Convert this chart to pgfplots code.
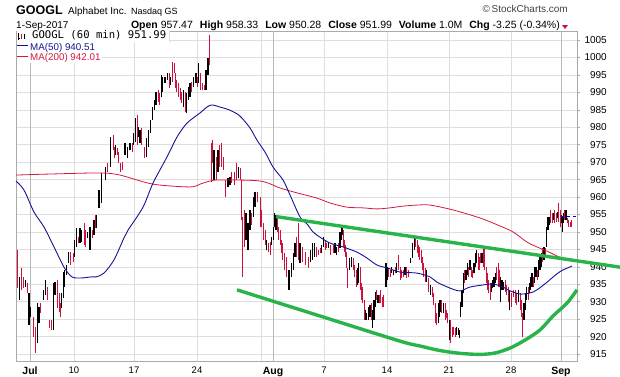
\documentclass[border=0pt]{standalone}
\usepackage{pgfplots}
\pgfplotsset{compat=1.18}
\usepackage{pgfplotstable}
\usepackage{fontspec}
\setmainfont{Liberation Sans}
\newfontfamily\monofont{DejaVu Sans Mono}

\definecolor{barred}{RGB}{206,16,60}
\definecolor{manavy}{RGB}{20,20,150}
\definecolor{macrim}{RGB}{214,24,64}
\definecolor{trendgreen}{RGB}{40,180,75}
\definecolor{gridgray}{RGB}{222,222,222}
\definecolor{monthgrid}{RGB}{185,185,185}
\definecolor{framegray}{RGB}{170,170,170}

% up (black) hourly bars: x-position, high, low
\pgfplotstableread{
x hi lo
19.3 937.2 930.5
25.7 936.2 934.3
29.0 932.4 923.3
30.7 928.6 925.7
37.3 929.6 918.1
39.0 928.6 923.8
43.3 933.4 930.5
45.7 936.2 931.9
53.3 935.3 921.9
55.0 935.7 931.9
61.7 932.4 928.1
63.3 938.6 931.0
64.7 939.1 934.3
66.3 940.5 937.6
68.3 944.3 941.0
74.7 947.7 942.9
76.7 951.0 945.8
80.0 951.0 946.7
81.7 950.5 947.2
87.3 950.1 948.2
90.0 951.5 944.8
94.0 953.4 949.1
96.7 954.8 951.0
99.0 962.0 956.8
101.5 966.8 958.2
105.3 968.7 964.9
110.7 977.3 968.7
115.7 974.9 972.0
125.0 975.4 972.0
127.3 974.4 971.1
130.0 975.4 973.5
133.7 978.3 974.9
135.3 982.6 975.9
138.7 980.2 977.3
140.0 979.2 975.4
146.7 976.8 971.6
148.7 979.2 974.4
150.7 982.1 978.3
152.3 985.9 982.1
154.7 987.8 984.9
156.0 990.2 986.4
161.3 995.0 988.7
162.7 994.5 990.2
165.0 994.5 992.6
167.3 995.5 993.5
170.7 994.5 992.1
183.3 990.7 985.9
186.7 989.7 984.0
188.3 991.6 987.8
190.0 992.6 988.7
193.7 994.5 991.6
196.0 995.5 992.6
198.7 998.3 992.6
206.0 996.4 990.7
208.0 999.8 995.0
214.0 973.5 964.9
218.0 973.5 967.3
228.0 965.4 963.0
230.0 965.8 963.4
238.3 968.7 965.4
246.0 955.3 947.7
248.0 952.5 944.8
250.0 956.3 950.5
253.3 960.1 954.4
255.0 961.5 957.2
266.7 947.7 944.8
271.3 948.6 946.2
273.3 951.5 947.7
274.7 955.3 951.5
276.0 954.8 950.5
289.0 939.1 933.4
291.3 941.0 937.2
293.3 943.9 939.1
295.0 946.7 942.9
300.0 946.7 941.0
310.7 944.8 941.5
312.7 946.7 942.0
314.7 946.7 942.9
321.7 946.2 943.9
323.3 948.6 945.8
328.3 947.2 945.3
335.0 946.7 943.9
336.7 945.8 943.4
340.0 950.1 945.3
341.3 952.0 947.7
342.3 951.5 949.1
349.3 942.4 939.1
351.7 942.9 940.0
357.3 939.6 934.8
358.7 941.0 935.3
365.3 927.6 924.8
366.7 926.7 924.8
368.3 928.6 924.8
370.0 929.1 925.7
372.7 927.6 922.4
374.0 930.5 924.8
375.3 932.9 928.6
378.0 931.9 929.6
386.0 941.0 934.3
387.3 940.0 936.2
391.7 940.0 938.1
393.3 939.1 937.6
396.7 941.0 938.1
405.0 940.0 937.6
410.7 942.4 941.0
412.7 946.7 942.4
414.3 948.6 944.8
426.7 939.1 935.7
430.7 934.8 931.9
438.3 929.6 923.8
439.3 930.5 925.7
440.7 930.5 927.1
443.3 929.6 926.7
449.3 924.8 919.0
456.7 922.8 920.5
458.3 922.4 920.5
459.3 921.9 919.5
460.7 930.0 925.7
462.0 933.4 928.6
463.3 938.1 932.4
466.0 939.1 936.2
467.3 941.0 937.6
470.0 941.9 939.1
474.0 941.0 938.1
475.3 943.9 940.0
476.7 944.8 941.0
482.0 943.9 941.0
491.3 935.3 932.9
492.7 936.2 933.8
494.0 937.2 934.3
495.3 938.1 935.3
500.7 937.2 930.0
502.0 936.2 933.4
503.3 935.7 933.4
509.3 933.4 927.6
518.3 933.4 930.0
524.0 929.6 924.8
525.3 932.4 927.6
526.7 934.3 930.5
529.3 935.3 932.4
530.7 937.2 933.4
532.0 938.1 934.3
534.7 940.0 935.3
536.0 940.0 937.2
538.7 941.9 937.2
540.0 942.9 939.1
541.3 943.9 940.0
544.0 945.8 941.9
546.7 951.5 945.8
548.0 954.4 950.5
549.3 954.4 952.0
553.3 955.3 953.4
557.3 955.8 953.9
561.3 954.8 952.5
562.3 954.4 950.1
563.3 955.3 952.5
566.0 956.3 953.4
}\upbars

% down (red) hourly bars: x-position, high, low
\pgfplotstableread{
x hi lo
17.3 944.8 933.8
21.3 939.6 933.4
23.3 937.2 933.8
27.3 935.3 932.4
33.0 925.7 920.0
35.3 922.8 915.2
40.7 929.6 926.7
47.3 934.3 930.5
49.0 924.8 922.4
51.3 924.8 921.9
57.3 936.2 928.1
59.0 932.4 927.1
60.0 929.6 925.7
70.7 944.3 940.5
73.0 943.9 941.5
78.3 948.6 946.7
84.0 952.5 946.2
85.7 950.5 945.8
92.0 950.5 948.2
95.3 954.8 951.0
107.3 969.7 967.3
113.0 977.8 973.5
114.7 974.4 971.1
117.3 974.0 972.0
118.7 973.0 969.7
120.7 969.7 967.3
122.7 970.1 967.7
132.0 975.4 973.0
137.3 983.5 974.9
141.7 979.7 974.9
144.0 974.4 971.1
158.0 990.7 987.3
159.3 989.7 986.4
169.3 995.5 991.2
172.3 998.8 993.0
174.0 998.3 995.5
175.3 995.5 991.2
176.7 993.5 990.2
178.3 992.6 988.7
180.0 991.2 987.8
181.7 990.2 986.9
185.0 990.2 984.5
191.7 993.0 990.2
197.3 994.5 991.6
200.7 995.5 990.7
202.0 992.6 990.7
204.0 992.1 990.7
209.5 1006.4 997.8
211.0 975.5 964.3
212.5 976.3 969.7
216.0 971.6 964.9
219.3 974.9 968.7
221.0 975.4 968.7
223.3 971.6 967.7
225.7 964.9 960.1
231.7 967.3 964.0
234.0 967.3 963.4
236.0 969.7 964.9
240.0 968.2 964.9
241.3 964.9 953.4
242.7 954.4 937.2
244.0 956.3 945.8
251.7 955.3 952.0
257.3 961.5 958.7
260.0 960.1 951.5
261.7 956.3 951.5
263.3 952.5 947.7
265.0 950.5 946.2
268.7 946.7 944.3
270.0 947.2 943.4
277.3 954.4 950.1
278.7 951.5 947.7
280.0 950.5 946.2
281.3 947.7 943.9
282.7 946.7 942.0
284.7 943.9 939.1
286.7 942.9 937.2
296.7 948.6 942.9
298.0 952.5 942.0
302.0 945.8 941.5
305.7 944.3 940.5
308.0 942.9 939.6
316.0 945.8 942.9
318.0 944.8 943.4
320.0 945.3 943.9
325.0 947.7 944.8
326.7 946.7 945.3
330.7 946.2 943.4
333.3 946.2 943.9
338.3 946.7 944.3
343.3 950.5 945.8
344.3 947.7 944.3
345.3 946.2 942.9
346.7 944.3 939.6
347.7 939.6 933.9
353.3 942.4 939.1
354.7 940.5 937.2
356.0 939.1 934.3
360.0 940.0 933.4
361.3 935.3 930.5
362.7 934.3 929.6
364.0 930.5 924.8
371.0 929.6 924.8
376.7 933.4 930.5
379.3 931.9 929.6
380.7 933.4 929.6
382.0 931.4 928.6
383.3 931.9 928.6
388.7 939.6 937.2
390.0 939.1 937.2
395.0 940.0 938.1
398.3 943.4 939.1
400.0 940.0 936.2
401.7 939.1 936.7
403.3 939.1 937.2
406.7 940.0 936.7
408.3 939.1 937.2
415.7 948.2 945.8
417.0 947.7 943.9
418.3 946.2 942.9
419.7 945.8 942.0
421.0 944.8 941.0
422.3 942.9 939.1
423.7 941.0 937.2
425.0 939.6 935.7
428.3 936.7 932.9
432.0 934.3 931.4
433.3 932.4 929.1
435.0 929.6 923.8
436.7 926.7 923.3
441.7 930.5 926.7
445.0 929.6 924.8
446.0 927.6 925.2
447.3 926.7 923.8
450.7 924.8 918.1
452.0 922.8 920.0
453.3 922.8 920.5
455.0 922.4 920.0
464.7 939.1 935.3
468.7 940.0 937.2
471.3 940.0 937.2
472.7 939.1 936.7
478.0 943.9 939.1
479.3 942.9 939.1
480.7 943.9 941.0
483.3 945.8 940.0
484.7 945.8 939.1
486.0 940.0 935.3
487.3 938.1 933.4
488.7 936.2 932.4
490.0 935.3 930.5
496.7 940.0 936.2
498.0 941.0 934.3
499.3 939.1 934.3
505.0 936.2 932.9
506.7 934.8 931.9
508.3 934.3 930.0
511.7 932.4 928.6
513.3 933.4 931.4
515.3 933.4 929.6
516.7 932.4 929.1
520.0 932.4 927.6
521.7 930.5 925.7
522.7 926.7 919.8
528.0 934.3 930.5
533.3 937.2 934.3
537.3 939.1 936.2
542.7 945.3 941.5
545.3 945.3 942.9
550.7 956.3 952.5
552.0 955.3 952.5
554.7 956.3 952.5
556.0 955.3 952.9
558.7 958.2 952.9
560.0 956.3 951.5
564.7 956.3 953.4
567.3 954.0 952.5
568.7 953.4 951.5
570.0 952.9 951.5
571.3 953.4 951.3
}\downbars

\begin{document}
\begin{tikzpicture}
\path[use as bounding box] (0pt,0pt) rectangle (620pt,376pt);
\begin{axis}[
  at={(16pt,15pt)}, anchor=south west,
  scale only axis, width=561pt, height=330pt,
  xmin=16, xmax=577, ymin=913.0, ymax=1007.6,
  clip=false,
  axis line style={draw=framegray, line width=0.6pt},
  /pgf/number format/assume math mode=true,
  /pgf/number format/1000 sep={},
  ytick={915,920,...,1005},
  ytick pos=right,
  tick align=outside,
  major tick length=3pt,
  ytick style={draw=framegray, line width=0.5pt},
  yticklabel style={anchor=east, inner sep=0pt, xshift=27pt, font=\fontsize{10}{10}\selectfont},
  ymajorgrids, xmajorgrids,
  major grid style={draw=gridgray, line width=0.6pt},
  xtick={74,134,197,261,324,387,449,511},
  xticklabels={10,17,24,{},7,14,21,28},
  xtick pos=bottom,
  xtick style={draw=none},
  xticklabel style={inner sep=0pt, yshift=-3pt, font=\fontsize{9.5}{9.5}\selectfont},
  extra x ticks={30,273,561},
  extra x tick labels={Jul,Aug,Sep},
  extra x tick style={grid=major, major grid style={draw=monthgrid, line width=0.7pt},
     xticklabel style={font=\bfseries\fontsize{10.5}{10.5}\selectfont}},
]
% hourly bars
\addplot[draw=none, mark=none, error bars/.cd, y dir=plus, y explicit, error mark=none,
   error bar style={draw=barred, solid, line width=1.0pt}]
   table[x=x, y=lo, y error plus expr=\thisrow{hi}-\thisrow{lo}] {\downbars};
\addplot[draw=none, mark=none, error bars/.cd, y dir=plus, y explicit, error mark=none,
   error bar style={draw=black, solid, line width=1.25pt}]
   table[x=x, y=lo, y error plus expr=\thisrow{hi}-\thisrow{lo}] {\upbars};
% MA(200)
\addplot[macrim, line width=0.8pt, smooth] coordinates {
(16,966.3) (50,966.6) (100,966.9) (120,966.3) (153,963.7) (190,962.9) (200,963.7)
(210,964.6) (220,964.9) (260,964.6) (280,962.6) (297,961.2) (317,959.7) (330,958.3)
(347,957.1) (363,956.9) (377,956.6) (390,956.9) (403,957.4) (417,957.7) (430,957.7)
(453,956.3) (480,954.0) (500,951.7) (513,950.0) (527,947.1) (537,945.7) (547,944.5)
(557,943.1) (565,942.2)};
% MA(50)
\addplot[manavy, line width=0.9pt, smooth] coordinates {
(16,964.6) (24,962.0) (34,955.7) (44,951.4) (54,945.7) (64,939.9) (72,937.1) (81,936.8)
(91,937.1) (96,937.1) (104,938.2) (114,942.0) (124,948.3) (128,950.5) (143,957.1)
(153,964.0) (167,971.5) (177,977.2) (187,981.2) (200,984.1) (207,985.8) (212,986.4)
(220,985.8) (230,984.9) (240,983.2) (250,979.8) (257,976.3) (265,972.9) (273,968.6)
(283,964.9) (290,960.6) (300,954.3) (307,952.3) (313,950.0) (320,948.5) (330,946.8)
(343,945.7) (357,944.2) (367,942.5) (377,940.5) (387,939.7) (400,938.5) (417,938.2)
(430,937.1) (437,935.6) (450,933.9) (460,933.1) (470,934.2) (483,934.8) (493,935.1)
(503,934.2) (510,933.1) (520,932.2) (530,932.5) (537,933.4) (547,935.6) (557,938.0)
(563,939.1) (572,940.2)};
% last-price marker
\addplot[blue, dashed, line width=0.6pt] coordinates {(561,954.6) (577,954.6)};
% trend lines
\addplot[trendgreen, line width=3.4pt] coordinates {(276,954.4) (620,939.9)};
\addplot[trendgreen, line width=3.4pt, smooth] coordinates {
(237,933.4) (320,925.9) (400,918.7) (420,917.3) (440,916.0) (460,915.2) (480,914.9)
(495,915.3) (510,916.7) (525,919.0) (540,921.9) (553,925.9) (567,929.6) (577,933.4)};
\end{axis}
% header
\node[anchor=base west, inner sep=0pt] at (16pt,362pt) {\fontsize{12.5}{12.5}\selectfont\bfseries GOOGL};
\node[anchor=base west, inner sep=0pt] at (68pt,362pt) {\fontsize{10}{10}\selectfont Alphabet Inc.};
\node[anchor=base west, inner sep=0pt] at (131pt,362pt) {\fontsize{9}{9}\selectfont Nasdaq GS};
\node[anchor=base east, inner sep=0pt, text=black!75] at (568pt,363pt) {\fontsize{10}{10}\selectfont ©\,StockCharts.com};
\node[anchor=base west, inner sep=0pt] at (16pt,348pt) {\fontsize{10}{10}\selectfont 1-Sep-2017};
\node[anchor=base east, inner sep=0pt] at (560pt,348pt) {\fontsize{10.5}{10.5}\selectfont
  \textbf{Open} 957.47\hspace{7pt}\textbf{High} 958.33\hspace{7pt}\textbf{Low} 950.28\hspace{7pt}\textbf{Close} 951.99\hspace{7pt}\textbf{Volume} 1.0M\hspace{7pt}\textbf{Chg} -3.25 (-0.34\%)};
\fill[barred] (562pt,351pt) -- (568pt,351pt) -- (565pt,347pt) -- cycle;
% legend
\fill[white] (16.5pt,334.5pt) rectangle (169pt,344.7pt);
\draw[gridgray, line width=0.5pt] (169pt,334.5pt) -- (169pt,345pt);
\draw[black, line width=1pt] (18.5pt,336pt) -- (18.5pt,343pt);
\draw[black, line width=0.6pt] (17.5pt,341pt) -- (18.5pt,341pt) (18.5pt,338pt) -- (19.5pt,338pt);
\draw[barred, line width=1pt] (21.5pt,337pt) -- (21.5pt,342.5pt);
\draw[black, line width=1pt] (24pt,337.5pt) -- (24pt,342pt);
\node[anchor=base west, inner sep=0pt] at (32pt,337.7pt) {\monofont\fontsize{10.6}{10.6}\selectfont GOOGL (60 min) 951.99};
\fill[white] (16.5pt,323pt) rectangle (97pt,334.5pt);
\draw[manavy, line width=0.9pt] (17pt,330.5pt) -- (28pt,330.5pt);
\node[anchor=base west, inner sep=0pt, text=manavy] at (30pt,326pt) {\fontsize{9.8}{9.8}\selectfont MA(50) 940.51};
\fill[white] (16.5pt,313pt) rectangle (102pt,323pt);
\draw[macrim, line width=0.8pt] (17pt,320pt) -- (28pt,320pt);
\node[anchor=base west, inner sep=0pt, text=macrim] at (30pt,316pt) {\fontsize{9.8}{9.8}\selectfont MA(200) 942.01};
\end{tikzpicture}
\end{document}
